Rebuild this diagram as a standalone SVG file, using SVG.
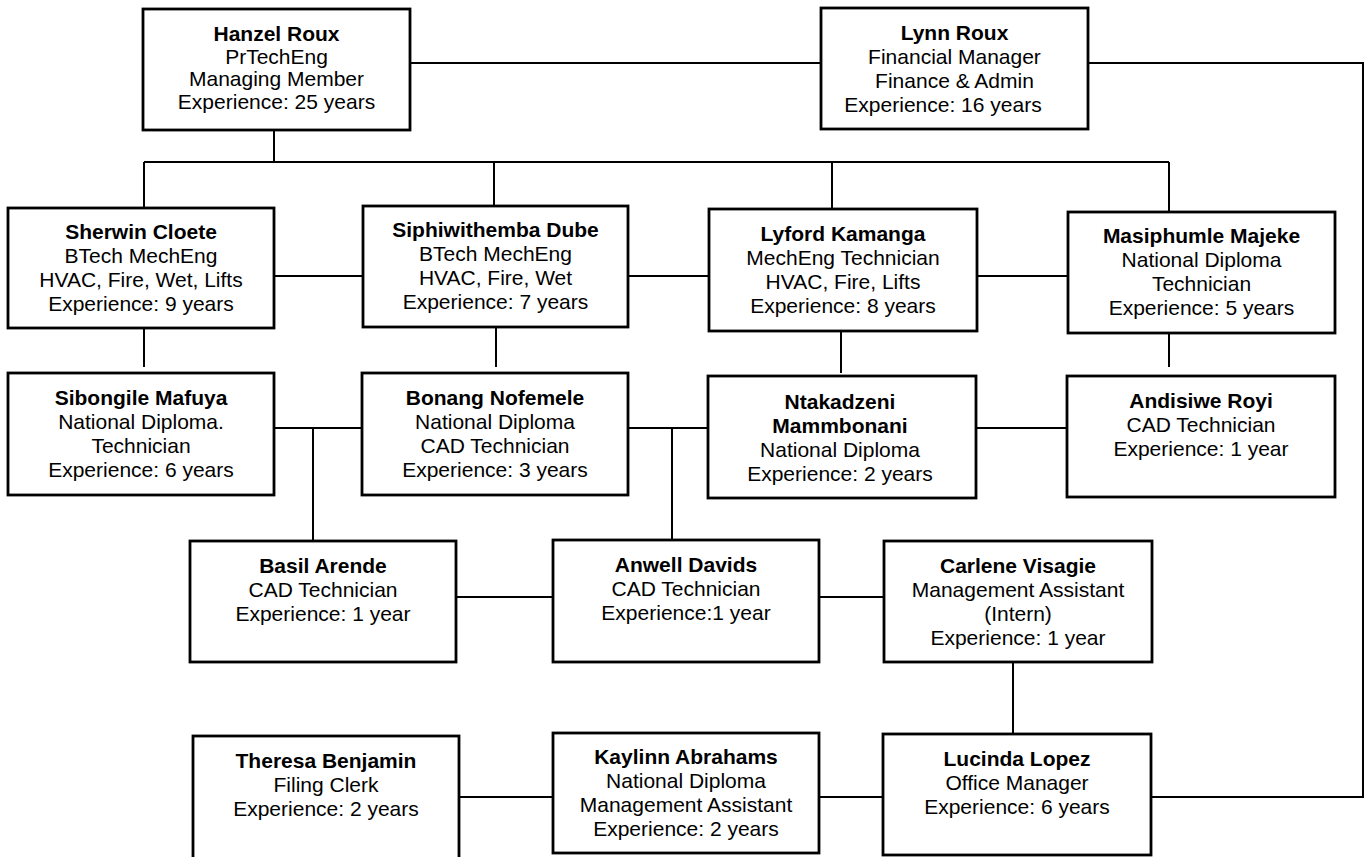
<svg xmlns="http://www.w3.org/2000/svg" width="1370" height="857" viewBox="0 0 1370 857">
<style>
.bg{fill:#ffffff}
.box{fill:#ffffff;stroke:#000000;stroke-width:2.8}
.ln{fill:none;stroke:#000000;stroke-width:2}
text{font-family:"Liberation Sans",Arial,sans-serif;font-size:21px;fill:#000000;text-anchor:middle}
.b{font-weight:bold}
</style>
<rect class="bg" x="0" y="0" width="1370" height="857"/>
<g id="connectors">
<path class="ln" d="M410,63 H821"/>
<path class="ln" d="M1088,63 H1363 V797 H1151"/>
<path class="ln" d="M274,130 V162"/>
<path class="ln" d="M144,162 H1169"/>
<path class="ln" d="M144,162 V208"/>
<path class="ln" d="M494,162 V206"/>
<path class="ln" d="M832,162 V209"/>
<path class="ln" d="M1169,162 V212"/>
<path class="ln" d="M274,276 H363"/>
<path class="ln" d="M628,276 H709"/>
<path class="ln" d="M977,276 H1068"/>
<path class="ln" d="M144,328 V367"/>
<path class="ln" d="M496,327 V367"/>
<path class="ln" d="M841,331 V373"/>
<path class="ln" d="M1169,333 V367"/>
<path class="ln" d="M274,428 H362"/>
<path class="ln" d="M313,428 V541"/>
<path class="ln" d="M628,428 H708"/>
<path class="ln" d="M672,428 V540"/>
<path class="ln" d="M976,428 H1067"/>
<path class="ln" d="M456,597 H553"/>
<path class="ln" d="M819,597 H884"/>
<path class="ln" d="M1013,662 V734"/>
<path class="ln" d="M459,797 H553"/>
<path class="ln" d="M819,797 H883"/>
</g>
<g id="hanzel">
<rect class="box" x="143" y="9" width="267" height="121"/>
<text class="b" x="276.5" y="41">Hanzel Roux</text>
<text x="276.5" y="63.5">PrTechEng</text>
<text x="276.5" y="86">Managing Member</text>
<text x="276.5" y="108.5">Experience: 25 years</text>
</g>
<g id="lynn">
<rect class="box" x="821" y="8" width="267" height="121"/>
<text class="b" x="954.5" y="40">Lynn Roux</text>
<text x="954.5" y="64">Financial Manager</text>
<text x="954.5" y="88">Finance &amp; Admin</text>
<text x="943" y="112">Experience: 16 years</text>
</g>
<g id="sherwin">
<rect class="box" x="8" y="208" width="266" height="120"/>
<text class="b" x="141" y="239">Sherwin Cloete</text>
<text x="141" y="263">BTech MechEng</text>
<text x="141" y="287">HVAC, Fire, Wet, Lifts</text>
<text x="141" y="311">Experience: 9 years</text>
</g>
<g id="siphiwithemba">
<rect class="box" x="363" y="206" width="265" height="121"/>
<text class="b" x="495.5" y="237">Siphiwithemba Dube</text>
<text x="495.5" y="261">BTech MechEng</text>
<text x="495.5" y="285">HVAC, Fire, Wet</text>
<text x="495.5" y="309">Experience: 7 years</text>
</g>
<g id="lyford">
<rect class="box" x="709" y="209" width="268" height="122"/>
<text class="b" x="843" y="241">Lyford Kamanga</text>
<text x="843" y="265">MechEng Technician</text>
<text x="843" y="289">HVAC, Fire, Lifts</text>
<text x="843" y="313">Experience: 8 years</text>
</g>
<g id="masiphumle">
<rect class="box" x="1068" y="212" width="267" height="121"/>
<text class="b" x="1201.5" y="243">Masiphumle Majeke</text>
<text x="1201.5" y="267">National Diploma</text>
<text x="1201.5" y="291">Technician</text>
<text x="1201.5" y="315">Experience: 5 years</text>
</g>
<g id="sibongile">
<rect class="box" x="8" y="373" width="266" height="122"/>
<text class="b" x="141" y="405">Sibongile Mafuya</text>
<text x="141" y="429">National Diploma.</text>
<text x="141" y="453">Technician</text>
<text x="141" y="477">Experience: 6 years</text>
</g>
<g id="bonang">
<rect class="box" x="362" y="373" width="266" height="122"/>
<text class="b" x="495" y="405">Bonang Nofemele</text>
<text x="495" y="429">National Diploma</text>
<text x="495" y="453">CAD Technician</text>
<text x="495" y="477">Experience: 3 years</text>
</g>
<g id="ntakadzeni">
<rect class="box" x="708" y="376" width="268" height="122"/>
<text class="b" x="840" y="409">Ntakadzeni</text>
<text class="b" x="840" y="433">Mammbonani</text>
<text x="840" y="457">National Diploma</text>
<text x="840" y="481">Experience: 2 years</text>
</g>
<g id="andisiwe">
<rect class="box" x="1067" y="376" width="268" height="121"/>
<text class="b" x="1201" y="408">Andisiwe Royi</text>
<text x="1201" y="432">CAD Technician</text>
<text x="1201" y="456">Experience: 1 year</text>
</g>
<g id="basil">
<rect class="box" x="190" y="541" width="266" height="121"/>
<text class="b" x="323" y="573">Basil Arende</text>
<text x="323" y="597">CAD Technician</text>
<text x="323" y="621">Experience: 1 year</text>
</g>
<g id="anwell">
<rect class="box" x="553" y="540" width="266" height="122"/>
<text class="b" x="686" y="572">Anwell Davids</text>
<text x="686" y="596">CAD Technician</text>
<text x="686" y="620">Experience:1 year</text>
</g>
<g id="carlene">
<rect class="box" x="884" y="541" width="268" height="121"/>
<text class="b" x="1018" y="573">Carlene Visagie</text>
<text x="1018" y="597">Management Assistant</text>
<text x="1018" y="621">(Intern)</text>
<text x="1018" y="645">Experience: 1 year</text>
</g>
<g id="theresa">
<rect class="box" x="193" y="736" width="266" height="140"/>
<text class="b" x="326" y="768">Theresa Benjamin</text>
<text x="326" y="792">Filing Clerk</text>
<text x="326" y="816">Experience: 2 years</text>
</g>
<g id="kaylinn">
<rect class="box" x="553" y="733" width="266" height="120"/>
<text class="b" x="686" y="764">Kaylinn Abrahams</text>
<text x="686" y="788">National Diploma</text>
<text x="686" y="812">Management Assistant</text>
<text x="686" y="836">Experience: 2 years</text>
</g>
<g id="lucinda">
<rect class="box" x="883" y="734" width="268" height="121"/>
<text class="b" x="1017" y="766">Lucinda Lopez</text>
<text x="1017" y="790">Office Manager</text>
<text x="1017" y="814">Experience: 6 years</text>
</g>
</svg>
